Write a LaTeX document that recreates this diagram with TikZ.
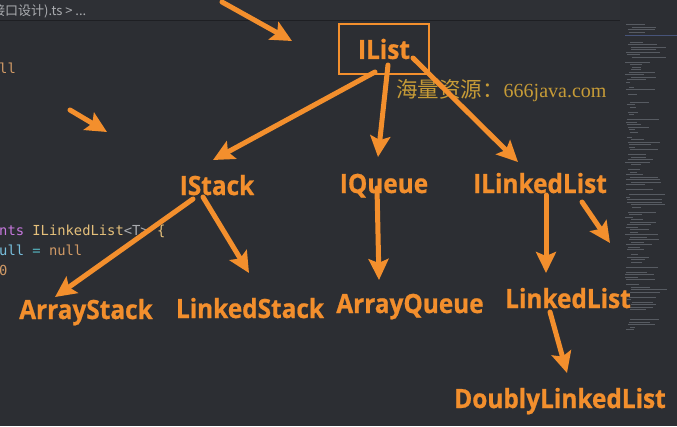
\documentclass[tikz,border=0pt]{standalone}
\usepackage{fontspec}
\setmainfont{Open Sans}
\setmonofont{DejaVu Sans Mono}
\newfontfamily\cjk{Noto Sans CJK SC}
\newfontfamily\wmserif{Liberation Serif}
\newfontfamily\labfont{Open Sans}[FakeStretch=0.92, BoldFeatures={FakeBold=0.8}]
\usetikzlibrary{arrows.meta}
\definecolor{bgc}{RGB}{44,46,51}
\definecolor{hdr}{RGB}{46,48,53}
\definecolor{hline}{RGB}{30,31,35}
\definecolor{orng}{RGB}{243,143,45}
\definecolor{gold}{RGB}{198,155,55}
\definecolor{tabtxt}{RGB}{170,172,176}
\definecolor{ckw}{RGB}{198,120,221}
\definecolor{ctype}{RGB}{229,192,123}
\definecolor{cvar}{RGB}{120,190,220}
\definecolor{cop}{RGB}{86,182,194}
\definecolor{cnum}{RGB}{209,154,102}
\definecolor{mini}{RGB}{140,146,156}
\definecolor{minihl}{RGB}{90,110,170}
\tikzset{
  lab/.style={font=\labfont\fontsize{26.5}{26.5}\selectfont\bfseries, text=orng, inner sep=0pt, anchor=base},
  arr/.style={draw=orng, line width=5pt, line cap=round, -{Stealth[length=21pt,width=20pt,inset=4pt]}},
  code/.style={font=\ttfamily\fontsize{13.8}{14}\selectfont, inner sep=0pt, anchor=base west},
}
\begin{document}
\begin{tikzpicture}[x=1pt,y=-1pt]
\useasboundingbox (0,0) rectangle (677,426);
\clip (0,0) rectangle (677,426);
\fill[bgc] (0,0) rectangle (677,426);
\fill[hdr] (0,0) rectangle (620,20);
\draw[hline, line width=1.5pt] (0,20.5) -- (620,20.5);
% tab text
\node[inner sep=0pt, anchor=base west, text=tabtxt, font=\cjk\fontsize{13}{13}\selectfont] (tab) at (-8,15) {接口设计).ts > ...};
% code fragments
\node[code, text=cnum] (c0) at (-1,73) {ll};
\node[code] (c1) at (-1,235) {\textcolor{ckw}{nts} \textcolor{ctype}{ILinkedList}\textcolor{tabtxt}{<T>} \textcolor{ctype}{\{}};
\node[code] (c2) at (-1,255) {\textcolor{cvar}{ull} \textcolor{cop}{=} \textcolor{cnum}{null}};
\node[code, text=cnum] (c3) at (-1,275) {0};
% minimap
\pgfmathsetseed{7}
\foreach \yy in {22,24.5,...,330} {
  \pgfmathsetmacro{\len}{4+rnd*32}
  \pgfmathsetmacro{\xo}{625+rnd*7}
  \pgfmathsetmacro{\op}{rnd<0.2 ? 0 : 0.45}
  \draw[mini, line width=0.6pt, opacity=\op] (\xo,\yy) -- ++(\len,0);
}
\draw[minihl, line width=1pt, opacity=0.6] (625,35) -- (677,35);
% watermark
\node[inner sep=0pt, anchor=base west, text=gold] (wm) at (396,97) {\cjk\fontsize{21.5}{21.5}\selectfont 海量资源：\wmserif\fontsize{20}{20}\selectfont 666java.com};
% nodes
\node[draw=orng, line width=1.5pt, minimum width=90pt, minimum height=50pt, inner sep=0pt,
      font=\labfont\fontsize{26.5}{26.5}\selectfont\bfseries, text=orng] (ilist) at (384,49) {IList};
\node[lab] (istack) at (217,195) {IStack};
\node[lab] (iqueue) at (384,193) {IQueue};
\node[lab] (ilinked) at (540,193) {ILinkedList};
\node[lab] (astack) at (86,319) {ArrayStack};
\node[lab] (lstack) at (250,318) {LinkedStack};
\node[lab] (aqueue) at (410,313) {ArrayQueue};
\node[lab] (llist) at (568,308) {LinkedList};
\node[lab] (dlist) at (560,408) {DoublyLinkedList};
\coordinate (t1a) at (222,2);
\coordinate (t1b) at (292,41);
\coordinate (t2a) at (70,110);
\coordinate (t2b) at (107,132);
\coordinate (side) at (610,243);
% arrows
\draw[arr] (t1a) -- (t1b);
\draw[arr] (t2a) -- (t2b);
\draw[arr] ([shift={(-9,23)}]ilist.center) -- ([shift={(-4,-35)}]istack.base);
\draw[arr] ([shift={(4,16)}]ilist.center) -- ([shift={(-6,-36)}]iqueue.base);
\draw[arr] ([shift={(29,9)}]ilist.center) -- ([shift={(-22,-31)}]ilinked.base);
\draw[arr] ([shift={(-24,4)}]istack.base) -- ([shift={(-31,-22)}]astack.base);
\draw[arr] ([shift={(-14,2)}]istack.base) -- ([shift={(-1,-45)}]lstack.base);
\draw[arr] ([shift={(-7,-5)}]iqueue.base) -- ([shift={(-31,-33)}]aqueue.base);
\draw[arr] ([shift={(6,2)}]ilinked.base) -- ([shift={(-22,-35)}]llist.base);
\draw[arr] ([shift={(42,9)}]ilinked.base) -- (side);
\draw[arr] ([shift={(-18,4)}]llist.base) -- ([shift={(7,-35)}]dlist.base);
\end{tikzpicture}
\end{document}
